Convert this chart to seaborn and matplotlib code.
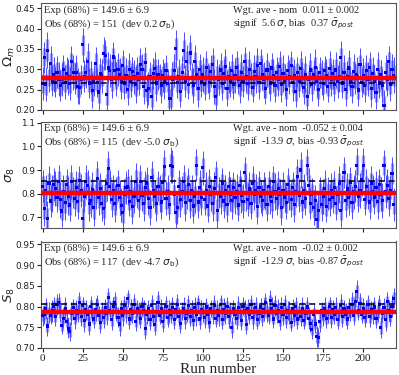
import numpy as np
import pandas as pd
import matplotlib
matplotlib.use("Agg")
import matplotlib.pyplot as plt
import seaborn as sns

#Run numbers
runs = list(range(220))

#Omega_m per run (x1000)
om_vals = [265, 329, 263, 347, 280, 315, 272, 287, 268, 293,
           276, 259, 274, 300, 268, 290, 281, 265, 319, 291,
           277, 293, 258, 254, 274, 360, 283, 291, 319, 266,
           279, 247, 272, 315, 268, 244, 290, 284, 339, 334,
           238, 303, 297, 274, 330, 296, 277, 300, 288, 271,
           310, 266, 285, 251, 299, 270, 295, 281, 262, 289,
           275, 311, 300, 258, 316, 247, 252, 281, 232, 290,
           302, 266, 287, 277, 259, 284, 271, 296, 265, 228,
           229, 276, 297, 350, 267, 283, 245, 292, 347, 271,
           320, 263, 340, 278, 260, 318, 286, 252, 299, 271,
           287, 262, 304, 279, 268, 295, 311, 258, 232, 280,
           274, 298, 265, 289, 307, 253, 281, 270, 296, 262,
           285, 305, 276, 259, 292, 270, 318, 283, 264, 300,
           277, 255, 294, 281, 309, 268, 313, 288, 274, 252,
           298, 280, 266, 303, 285, 259, 291, 276, 307, 262,
           289, 273, 250, 296, 281, 310, 267, 284, 245, 293,
           271, 301, 279, 256, 288, 232, 275, 298, 263, 286,
           305, 270, 251, 292, 279, 264, 296, 284, 257, 301,
           275, 289, 262, 298, 270, 283, 328, 266, 293, 250,
           281, 303, 271, 258, 295, 277, 287, 249, 312, 268,
           284, 260, 296, 275, 305, 253, 290, 270, 243, 299,
           266, 287, 259, 210, 292, 274, 320, 262, 300, 285]

#sigma_8 per run (x1000)
s8_vals = [832, 737, 815, 695, 845, 769, 800, 840, 822, 785,
           851, 775, 727, 810, 763, 838, 790, 752, 850, 805,
           779, 826, 768, 855, 812, 695, 790, 850, 833, 760,
           770, 818, 742, 800, 866, 785, 821, 760, 737, 804,
           842, 906, 830, 775, 812, 758, 800, 836, 782, 749,
           720, 795, 826, 830, 768, 810, 744, 788, 853, 806,
           772, 850, 793, 760, 827, 845, 781, 740, 870, 812,
           790, 758, 831, 800, 765, 846, 916, 781, 808, 753,
           920, 915, 795, 720, 740, 829, 776, 810, 850, 762,
           803, 838, 771, 815, 748, 790, 920, 765, 828, 782,
           909, 776, 815, 748, 832, 795, 760, 823, 870, 730,
           805, 787, 842, 769, 812, 755, 830, 798, 770, 826,
           784, 810, 752, 835, 793, 768, 890, 805, 776, 820,
           760, 843, 797, 812, 745, 828, 788, 771, 815, 802,
           756, 832, 790, 768, 850, 809, 778, 823, 795, 740,
           815, 786, 762, 838, 800, 775, 826, 753, 808, 872,
           791, 900, 765, 812, 780, 920, 835, 758, 796, 742,
           770, 690, 728, 806, 755, 788, 821, 745, 800, 775,
           812, 784, 826, 760, 798, 842, 730, 805, 890, 772,
           820, 785, 848, 763, 807, 832, 920, 790, 815, 858,
           920, 776, 830, 802, 765, 845, 810, 786, 825, 768,
           840, 798, 772, 920, 808, 835, 780, 815, 885, 755]

#S_8 per run (x1000)
S8_vals = [778, 781, 795, 753, 785, 779, 790, 800, 776, 805,
           810, 788, 755, 772, 795, 763, 748, 740, 783, 797,
           771, 790, 784, 810, 776, 802, 766, 792, 780, 758,
           800, 785, 770, 793, 805, 779, 762, 788, 774, 798,
           783, 821, 791, 768, 801, 810, 786, 774, 758, 795,
           779, 803, 788, 820, 770, 792, 783, 806, 765, 796,
           785, 772, 800, 790, 748, 781, 794, 768, 802, 776,
           756, 789, 810, 779, 795, 764, 786, 801, 773, 790,
           782, 798, 769, 792, 805, 777, 760, 789, 796, 771,
           784, 803, 775, 791, 766, 798, 781, 808, 770, 793,
           787, 774, 799, 781, 762, 795, 785, 803, 772, 790,
           779, 806, 768, 793, 783, 800, 775, 788, 750, 796,
           782, 771, 798, 786, 767, 801, 790, 757, 794, 780,
           805, 774, 789, 797, 768, 783, 799, 776, 792, 810,
           787, 779, 815, 796, 770, 802, 784, 791, 765, 798,
           781, 806, 773, 790, 785, 762, 795, 778, 800, 770,
           788, 776, 796, 767, 784, 799, 772, 760, 745, 780,
           758, 727, 725, 765, 790, 778, 795, 771, 786, 801,
           774, 792, 780, 797, 768, 787, 803, 775, 794, 782,
           770, 798, 785, 806, 779, 812, 837, 790, 808, 781,
           796, 773, 789, 804, 776, 792, 785, 799, 771, 788,
           805, 750, 783, 797, 768, 812, 790, 777, 801, 820]

#95% half widths (x1000)
om_err95 = [40, 38, 42, 45, 36, 41, 39, 44, 37, 40, 43, 38, 41, 36, 42, 39, 45, 40, 37, 43,
            38, 41, 44, 39, 36, 42, 40, 38, 45, 37, 41, 43, 39, 40, 36, 44, 38, 42, 41, 37,
            43, 39, 40, 45, 38, 36, 42, 41, 39, 44, 37, 40, 43, 38, 41, 39, 36, 42, 45, 40,
            38, 41, 37, 44, 39, 42, 40, 36, 43, 38, 41, 45, 39, 37, 42, 40, 44, 38, 36, 41,
            39, 43, 40, 46, 37, 42, 38, 41, 44, 39, 40, 36, 43, 38, 42, 41, 37, 45, 39, 40,
            44, 38, 41, 37, 42, 39, 40, 43, 36, 45, 38, 41, 40, 37, 42, 44, 39, 38, 41, 36,
            43, 40, 38, 42, 45, 39, 37, 41, 40, 44, 38, 36, 42, 39, 43, 41, 37, 40, 45, 38,
            42, 39, 44, 36, 41, 40, 38, 43, 37, 42, 45, 39, 40, 38, 41, 36, 44, 42, 39, 37,
            40, 43, 38, 41, 45, 39, 36, 42, 40, 37, 44, 38, 41, 39, 43, 40, 36, 42, 38, 45,
            41, 37, 39, 44, 40, 38, 42, 36, 43, 41, 39, 45, 37, 40, 42, 38, 44, 39, 41, 36,
            43, 40, 38, 42, 37, 45, 39, 41, 40, 44, 38, 36, 42, 39, 43, 41, 37, 40, 38, 44]
s8_err95 = [68, 72, 65, 75, 70, 66, 78, 69, 73, 64, 71, 76, 67, 70, 74, 65, 79, 68, 72, 66,
            73, 69, 75, 64, 70, 77, 67, 71, 66, 74, 68, 72, 79, 65, 70, 73, 67, 76, 69, 64,
            71, 75, 68, 72, 66, 78, 70, 65, 73, 69, 74, 67, 71, 76, 64, 70, 72, 68, 75, 66,
            69, 73, 65, 77, 70, 67, 72, 74, 66, 71, 68, 75, 64, 79, 70, 72, 67, 73, 69, 65,
            76, 71, 68, 74, 66, 70, 73, 65, 72, 78, 67, 69, 75, 64, 71, 73, 68, 66, 74, 70,
            72, 65, 77, 69, 71, 67, 74, 68, 70, 76, 64, 73, 66, 72, 69, 75, 67, 71, 78, 65,
            70, 74, 68, 66, 73, 71, 65, 77, 69, 72, 67, 75, 64, 70, 73, 68, 71, 66, 76, 69,
            72, 65, 74, 70, 67, 78, 69, 73, 66, 71, 75, 64, 70, 72, 68, 74, 67, 71, 65, 73,
            69, 76, 66, 72, 70, 68, 75, 64, 71, 73, 67, 70, 74, 66, 69, 72, 78, 65, 71, 68,
            74, 67, 70, 73, 65, 76, 69, 72, 66, 71, 68, 75, 64, 70, 73, 67, 72, 69, 74, 66,
            71, 68, 75, 65, 70, 73, 67, 72, 69, 76, 64, 71, 74, 66, 70, 68, 73, 65, 72, 69]
S8_err95 = [24, 22, 26, 23, 25, 21, 27, 24, 22, 25, 23, 26, 21, 24, 28, 22, 25, 23, 27, 21,
            24, 26, 22, 25, 23, 21, 27, 24, 22, 26, 25, 23, 21, 28, 24, 22, 26, 23, 25, 21,
            27, 24, 22, 25, 23, 26, 21, 24, 28, 22, 25, 23, 27, 21, 24, 26, 22, 25, 23, 21,
            26, 24, 22, 25, 27, 23, 21, 24, 26, 22, 25, 23, 28, 21, 24, 26, 22, 25, 23, 27,
            22, 25, 24, 21, 26, 23, 25, 22, 27, 24, 21, 26, 23, 25, 22, 24, 28, 21, 25, 23,
            24, 26, 22, 25, 23, 21, 27, 24, 22, 26, 25, 23, 21, 28, 24, 22, 26, 23, 25, 21,
            23, 25, 27, 22, 24, 21, 26, 23, 25, 22, 24, 28, 21, 25, 23, 26, 22, 24, 27, 23,
            25, 22, 24, 26, 21, 25, 23, 27, 22, 24, 26, 21, 25, 23, 28, 22, 24, 26, 23, 25,
            21, 24, 27, 22, 25, 23, 26, 21, 24, 28, 22, 25, 23, 26, 21, 24, 27, 22, 25, 23,
            26, 24, 22, 25, 23, 21, 27, 24, 22, 26, 25, 23, 21, 28, 24, 22, 26, 23, 25, 21,
            24, 22, 26, 23, 25, 21, 27, 24, 22, 25, 23, 26, 21, 24, 28, 22, 25, 23, 27, 24]

#68% half widths (x1000)
om_err68 = [24, 22, 26, 27, 21, 25, 23, 26, 22, 24, 25, 23, 24, 21, 25, 23, 27, 24, 22, 26,
            23, 25, 26, 23, 21, 25, 24, 22, 27, 22, 24, 26, 23, 24, 21, 26, 23, 25, 24, 22,
            26, 23, 24, 27, 23, 21, 25, 24, 23, 26, 22, 24, 26, 23, 24, 23, 21, 25, 27, 24,
            23, 24, 22, 26, 23, 25, 24, 21, 26, 23, 24, 27, 23, 22, 25, 24, 26, 23, 21, 24,
            23, 26, 24, 28, 22, 25, 23, 24, 26, 23, 24, 21, 26, 23, 25, 24, 22, 27, 23, 24,
            26, 23, 24, 22, 25, 23, 24, 26, 21, 27, 23, 24, 24, 22, 25, 26, 23, 23, 24, 21,
            26, 24, 23, 25, 27, 23, 22, 24, 24, 26, 23, 21, 25, 23, 26, 24, 22, 24, 27, 23,
            25, 23, 26, 21, 24, 24, 23, 26, 22, 25, 27, 23, 24, 23, 24, 21, 26, 25, 23, 22,
            24, 26, 23, 24, 27, 23, 21, 25, 24, 22, 26, 23, 24, 23, 26, 24, 21, 25, 23, 27,
            24, 22, 23, 26, 24, 23, 25, 21, 26, 24, 23, 27, 22, 24, 25, 23, 26, 23, 24, 21,
            26, 24, 23, 25, 22, 27, 23, 24, 24, 26, 23, 21, 25, 23, 26, 24, 22, 24, 23, 26]
s8_err68 = [41, 43, 39, 45, 42, 40, 47, 41, 44, 38, 43, 46, 40, 42, 44, 39, 47, 41, 43, 40,
            44, 41, 45, 38, 42, 46, 40, 43, 40, 44, 41, 43, 47, 39, 42, 44, 40, 46, 41, 38,
            43, 45, 41, 43, 40, 47, 42, 39, 44, 41, 44, 40, 43, 46, 38, 42, 43, 41, 45, 40,
            41, 44, 39, 46, 42, 40, 43, 44, 40, 43, 41, 45, 38, 47, 42, 43, 40, 44, 41, 39,
            46, 43, 41, 44, 40, 42, 44, 39, 43, 47, 40, 41, 45, 38, 43, 44, 41, 40, 44, 42,
            43, 39, 46, 41, 43, 40, 44, 41, 42, 46, 38, 44, 40, 43, 41, 45, 40, 43, 47, 39,
            42, 44, 41, 40, 44, 43, 39, 46, 41, 43, 40, 45, 38, 42, 44, 41, 43, 40, 46, 41,
            43, 39, 44, 42, 40, 47, 41, 44, 40, 43, 45, 38, 42, 43, 41, 44, 40, 43, 39, 44,
            41, 46, 40, 43, 42, 41, 45, 38, 43, 44, 40, 42, 44, 40, 41, 43, 47, 39, 43, 41,
            44, 40, 42, 44, 39, 46, 41, 43, 40, 43, 41, 45, 38, 42, 44, 40, 43, 41, 44, 40,
            43, 41, 45, 39, 42, 44, 40, 43, 41, 46, 38, 43, 44, 40, 42, 41, 44, 39, 43, 41]
S8_err68 = [14, 13, 16, 14, 15, 13, 16, 14, 13, 15, 14, 16, 13, 14, 17, 13, 15, 14, 16, 13,
            14, 16, 13, 15, 14, 13, 16, 14, 13, 16, 15, 14, 13, 17, 14, 13, 16, 14, 15, 13,
            16, 14, 13, 15, 14, 16, 13, 14, 17, 13, 15, 14, 16, 13, 14, 16, 13, 15, 14, 13,
            16, 14, 13, 15, 16, 14, 13, 14, 16, 13, 15, 14, 17, 13, 14, 16, 13, 15, 14, 16,
            13, 15, 14, 13, 16, 14, 15, 13, 16, 14, 13, 16, 14, 15, 13, 14, 17, 13, 15, 14,
            14, 16, 13, 15, 14, 13, 16, 14, 13, 16, 15, 14, 13, 17, 14, 13, 16, 14, 15, 13,
            14, 15, 16, 13, 14, 13, 16, 14, 15, 13, 14, 17, 13, 15, 14, 16, 13, 14, 16, 14,
            15, 13, 14, 16, 13, 15, 14, 16, 13, 14, 16, 13, 15, 14, 17, 13, 14, 16, 14, 15,
            13, 14, 16, 13, 15, 14, 16, 13, 14, 17, 13, 15, 14, 16, 13, 14, 16, 13, 15, 14,
            16, 14, 13, 15, 14, 13, 16, 14, 13, 16, 15, 14, 13, 17, 14, 13, 16, 14, 15, 13,
            14, 13, 16, 14, 15, 13, 16, 14, 13, 15, 14, 16, 13, 14, 17, 13, 15, 14, 16, 14]

#Reference lines: weighted average (red) and nominal (dashed)
wgt_ave = [0.278, 0.801, 0.786]
nominal = [0.267, 0.853, 0.806]

#Panel labels and annotation text
ylabels = [r"$\Omega_m$", r"$\sigma_8$", r"$S_8$"]
obs_text = [r"Obs (68%) = 151  (dev 0.2 $\sigma_{\rm b}$)",
            r"Obs (68%) = 115  (dev -5.0 $\sigma_{\rm b}$)",
            r"Obs (68%) = 117  (dev -4.7 $\sigma_{\rm b}$)"]
ave_text = ["Wgt. ave - nom  0.011 \u00b1 0.002",
            "Wgt. ave - nom  -0.052 \u00b1 0.004",
            "Wgt. ave - nom  -0.02 \u00b1 0.002"]
sig_text = [r"signif  5.6 $\sigma$, bias  0.37 $\bar{\sigma}_{post}$",
            r"signif  -13.9 $\sigma$, bias -0.93 $\bar{\sigma}_{post}$",
            r"signif  -12.9 $\sigma$, bias -0.87 $\bar{\sigma}_{post}$"]
exp_text = "Exp (68%) = 149.6 \u00b1 6.9"

ylims = [(0.2, 0.462), (0.655, 1.105), (0.70, 0.957)]
yticks = [np.arange(0.20, 0.451, 0.05), np.arange(0.7, 1.101, 0.1), np.arange(0.70, 0.951, 0.05)]
ytick_fmt = ["%.2f", "%.1f", "%.2f"]

#Build one frame per panel
panels = []
for vals, e95, e68 in [(om_vals, om_err95, om_err68),
                       (s8_vals, s8_err95, s8_err68),
                       (S8_vals, S8_err95, S8_err68)]:
    panels.append(pd.DataFrame({"run": runs,
                                "value": np.array(vals) / 1000,
                                "err95": np.array(e95) / 1000,
                                "err68": np.array(e68) / 1000}))

sns.set_style("ticks")
plt.rcParams["mathtext.fontset"] = "dejavusans"

fig = plt.figure(figsize=(3.99, 3.75), dpi=100)
bottoms = [0.707, 0.392, 0.072]
axes = [fig.add_axes([0.102, b, 0.891, 0.284]) for b in bottoms]

serif = "Liberation Serif"
for i, ax in enumerate(axes):
    df = panels[i]
    #Thick light inner bars, thin outer bars on top
    ax.errorbar(df["run"], df["value"], yerr=df["err68"], fmt="none",
                ecolor="#8585ff", elinewidth=2.4, alpha=0.75, zorder=1)
    ax.errorbar(df["run"], df["value"], yerr=df["err95"], fmt="none",
                ecolor="#3a3aff", elinewidth=0.7, alpha=0.9, zorder=2)
    sns.scatterplot(data=df, x="run", y="value", ax=ax, marker="s", s=5,
                    color="#0000ee", edgecolor="none", zorder=3, legend=False)
    ax.axhline(wgt_ave[i], color="red", lw=3.2, zorder=4)
    ax.axhline(nominal[i], color="black", lw=1.1, ls=(0, (4, 2.5)), zorder=5)

    ax.set_xlim(-1.2, 220.6)
    ax.set_ylim(*ylims[i])
    ax.set_yticks(yticks[i])
    ax.set_yticklabels([ytick_fmt[i] % t for t in yticks[i]], fontsize=6.4)
    ax.set_xticks(range(0, 201, 25))
    ax.set_ylabel(ylabels[i], fontsize=9.5)
    ax.yaxis.set_label_coords(-0.068, 0.5)
    ax.set_xlabel("")
    ax.tick_params(length=3, width=0.8, pad=1, colors="#222222")
    for sp in ax.spines.values():
        sp.set_color("#555555")
        sp.set_linewidth(0.8)

    ax.text(0.01, 0.91, exp_text, transform=ax.transAxes, ha="left", va="baseline",
            fontsize=7.6, family=serif, zorder=6)
    ax.text(0.01, 0.785, obs_text[i], transform=ax.transAxes, ha="left", va="baseline",
            fontsize=7.6, family=serif, zorder=6)
    ax.text(0.542, 0.91, ave_text[i], transform=ax.transAxes, ha="left", va="baseline",
            fontsize=7.4, family=serif, zorder=6)
    ax.text(0.542, 0.785, sig_text[i], transform=ax.transAxes, ha="left", va="baseline",
            fontsize=7.4, family=serif, zorder=6)

    if i < 2:
        ax.set_xticklabels([])
    else:
        ax.set_xticklabels([str(t) for t in range(0, 201, 25)], fontsize=8, family=serif)
        ax.set_xlabel("Run number", fontsize=11, family=serif, labelpad=0)

fig.savefig("out.png", dpi=100)
